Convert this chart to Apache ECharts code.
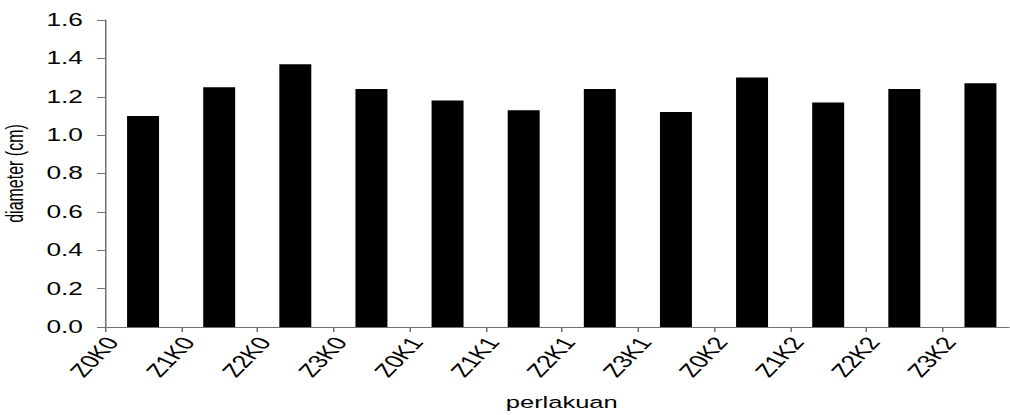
<!DOCTYPE html>
<html>
<head>
<meta charset="utf-8">
<script src="https://cdn.jsdelivr.net/npm/echarts@6/dist/echarts.min.js"></script>
<style>
  html, body { margin: 0; padding: 0; background: #fff; overflow: hidden; }
  /* the drawing is laid out narrow and widened 1.5x, giving the broad lettering */
  #chart { width: 673.33px; height: 415px; transform: scaleX(1.5); transform-origin: 0 0; }
</style>
</head>
<body>
<div id="chart"></div>
<script>
// treatment codes (zinc level Z, potassium level K)
const categories = ['Z0K0', 'Z1K0', 'Z2K0', 'Z3K0', 'Z0K1', 'Z1K1', 'Z2K1', 'Z3K1', 'Z0K2', 'Z1K2', 'Z2K2', 'Z3K2'];
// mean diameter in cm per treatment
const diameter = [1.10, 1.25, 1.37, 1.24, 1.18, 1.13, 1.24, 1.12, 1.30, 1.17, 1.24, 1.27];
// y-axis range and step
const yMin = 0, yMax = 1.6, yStep = 0.2;

const FONT = 'Liberation Sans, Arial, sans-serif';
const AXIS_GREY = '#707070';

const chart = echarts.init(document.getElementById('chart'), null, { renderer: 'svg' });

const gridLeft = 70, gridRight = -6, gridTop = 20, gridBottom = 88;
const labelShift = 4.7;   // treatment labels sit just right of each boundary tick

chart.setOption({
  animation: false,
  backgroundColor: '#fff',
  grid: [
    { left: gridLeft, right: gridRight, top: gridTop, bottom: gridBottom, containLabel: false, outerBoundsMode: 'none' },
    { left: gridLeft + labelShift, right: gridRight - labelShift, top: gridTop, bottom: gridBottom, containLabel: false, outerBoundsMode: 'none' }
  ],
  xAxis: [
    {
      type: 'category',
      gridIndex: 0,
      data: categories,
      boundaryGap: true,
      name: 'perlakuan',
      nameLocation: 'middle',
      nameGap: 67,
      nameTextStyle: { fontFamily: FONT, fontSize: 17, color: '#000' },
      axisLine: { lineStyle: { color: AXIS_GREY, width: 1 } },
      axisTick: { show: true, length: 5, lineStyle: { color: AXIS_GREY } },
      axisLabel: { show: false },
      splitLine: { show: false }
    },
    {
      // label-only axis: one label at each band boundary
      type: 'category',
      gridIndex: 1,
      data: categories.concat(['']),
      boundaryGap: false,
      axisLine: { show: false },
      axisTick: { show: false },
      splitLine: { show: false },
      axisLabel: {
        interval: 0,
        rotate: 56.3,
        margin: 12,
        fontFamily: FONT,
        fontSize: 18,
        color: '#000'
      }
    }
  ],
  yAxis: [
    {
      type: 'value',
      gridIndex: 0,
      min: yMin,
      max: yMax,
      interval: yStep,
      name: 'diameter (cm)',
      nameLocation: 'middle',
      nameGap: 52,
      nameTextStyle: { fontFamily: FONT, fontSize: 16, color: '#000' },
      axisLine: { show: true, lineStyle: { color: AXIS_GREY, width: 1 } },
      axisTick: { show: true, length: 5.3, lineStyle: { color: AXIS_GREY } },
      axisLabel: {
        margin: 14.7,
        fontFamily: FONT,
        fontSize: 17.5,
        color: '#000',
        formatter: v => v.toFixed(1)
      },
      splitLine: { show: false }
    },
    {
      type: 'value',
      gridIndex: 1,
      min: yMin,
      max: yMax,
      show: false
    }
  ],
  series: [
    {
      type: 'bar',
      xAxisIndex: 0,
      yAxisIndex: 0,
      data: diameter,
      barWidth: '42%',
      itemStyle: { color: '#000' }
    }
  ]
});
</script>
</body>
</html>
